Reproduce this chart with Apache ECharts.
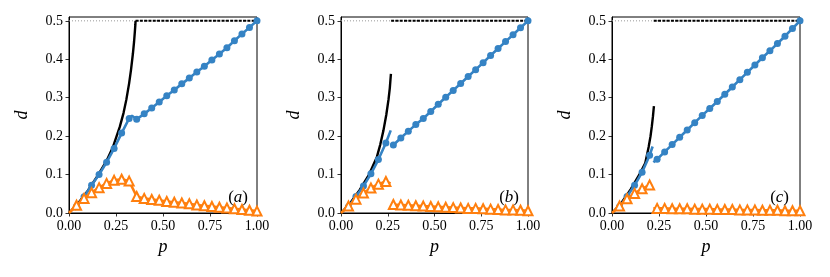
<!DOCTYPE html>
<html><head><meta charset="utf-8">
<script src="https://cdn.jsdelivr.net/npm/echarts@6/dist/echarts.min.js"></script>
<style>html,body{margin:0;padding:0;background:#fff}#c{width:830px;height:277px}</style>
</head><body><div id="c"></div>
<script>
// ---------- data ----------
const pTicks = [0, 0.25, 0.5, 0.75, 1];
const dTicks = [0, 0.1, 0.2, 0.3, 0.4, 0.5];
const panelLabels = ['a', 'b', 'c'];
const transitionP = [0.354, 0.268, 0.222];

const blackA = [[0,0],[0.05,0.026],[0.1,0.058],[0.15,0.095],[0.2,0.136],[0.234,0.172],[0.27,0.224],[0.29,0.26],[0.305,0.295],[0.32,0.338],[0.33,0.373],[0.34,0.415],[0.346,0.445],[0.35,0.47],[0.353,0.49],[0.354,0.5]];
const blackB = [[0,0],[0.05,0.026],[0.1,0.06],[0.15,0.1],[0.192,0.146],[0.21,0.178],[0.227,0.215],[0.242,0.255],[0.254,0.295],[0.261,0.325],[0.265,0.35],[0.267,0.362]];
const blackC = [[0,0],[0.05,0.026],[0.1,0.062],[0.15,0.104],[0.177,0.13],[0.195,0.172],[0.205,0.2],[0.212,0.226],[0.218,0.252],[0.221,0.268],[0.223,0.278]];

const blueA = [[[0.03,0.008],[0.04,0.017],[0.08,0.042],[0.12,0.072],[0.16,0.1],[0.2,0.132],[0.24,0.168],[0.28,0.208],[0.32,0.246],[0.335,0.253],[0.36,0.244],[0.4,0.258],[0.44,0.273],[0.48,0.289],[0.52,0.305],[0.56,0.32],[0.6,0.336],[0.64,0.351],[0.68,0.367],[0.72,0.382],[0.76,0.398],[0.8,0.414],[0.84,0.43],[0.88,0.448],[0.92,0.466],[0.96,0.483],[1,0.5]]];
const blueB = [
  [[0.03,0.008],[0.04,0.016],[0.08,0.043],[0.12,0.07],[0.16,0.102],[0.2,0.139],[0.24,0.182],[0.266,0.215]],
  [[0.28,0.177],[0.32,0.195],[0.36,0.213],[0.4,0.23],[0.44,0.246],[0.48,0.264],[0.52,0.283],[0.56,0.301],[0.6,0.319],[0.64,0.337],[0.68,0.355],[0.72,0.373],[0.76,0.391],[0.8,0.41],[0.84,0.428],[0.88,0.446],[0.92,0.464],[0.96,0.482],[1,0.5]]
];
const blueC = [
  [[0.03,0.008],[0.04,0.016],[0.08,0.043],[0.12,0.072],[0.16,0.106],[0.2,0.15],[0.216,0.173]],
  [[0.22,0.132],[0.24,0.14],[0.28,0.159],[0.32,0.178],[0.36,0.197],[0.4,0.216],[0.44,0.235],[0.48,0.254],[0.52,0.272],[0.56,0.29],[0.6,0.309],[0.64,0.328],[0.68,0.347],[0.72,0.366],[0.76,0.385],[0.8,0.404],[0.84,0.422],[0.88,0.441],[0.92,0.46],[0.96,0.48],[1,0.5]]
];

const orangeA = [[[0,0],[0.04,0.02],[0.08,0.038],[0.12,0.053],[0.16,0.066],[0.2,0.077],[0.24,0.085],[0.28,0.088],[0.32,0.083],[0.36,0.043],[0.4,0.038],[0.44,0.035],[0.48,0.033],[0.52,0.03],[0.56,0.028],[0.6,0.026],[0.64,0.024],[0.68,0.021],[0.72,0.019],[0.76,0.017],[0.8,0.015],[0.84,0.013],[0.88,0.011],[0.92,0.009],[0.96,0.007],[1,0.005]]];
const orangeB = [
  [[0,0],[0.04,0.018],[0.08,0.036],[0.12,0.052],[0.16,0.065],[0.2,0.075],[0.24,0.082],[0.265,0.077]],
  [[0.272,0.022],[0.28,0.022],[0.32,0.021],[0.36,0.02],[0.4,0.019],[0.44,0.018],[0.48,0.017],[0.52,0.016],[0.56,0.015],[0.6,0.014],[0.64,0.013],[0.68,0.012],[0.72,0.012],[0.76,0.011],[0.8,0.01],[0.84,0.009],[0.88,0.008],[0.92,0.008],[0.96,0.007],[1,0.006]]
];
const orangeC = [
  [[0,0],[0.04,0.018],[0.08,0.037],[0.12,0.051],[0.16,0.063],[0.2,0.073],[0.215,0.07]],
  [[0.22,0.012],[0.24,0.012],[0.28,0.012],[0.32,0.011],[0.36,0.011],[0.4,0.011],[0.44,0.01],[0.48,0.01],[0.52,0.01],[0.56,0.009],[0.6,0.009],[0.64,0.009],[0.68,0.008],[0.72,0.008],[0.76,0.008],[0.8,0.007],[0.84,0.007],[0.88,0.007],[0.92,0.006],[0.96,0.006],[1,0.006]]
];

const blacks = [blackA, blackB, blackC];
const blues = [blueA, blueB, blueC];
const oranges = [orangeA, orangeB, orangeC];

// ---------- layout / style ----------
const grids = [
  {left: 69, top: 17, width: 188, height: 196},
  {left: 341, top: 17, width: 187, height: 196},
  {left: 612, top: 17, width: 188, height: 196}
];
const labelRight = [577, 306, 36];
const FONT = '"Liberation Serif", "DejaVu Serif", serif';
const BLUE = '#3583c4';
const ORANGE = '#ff7f0e';
const onMarker = v => v[0] > 0 && Math.abs(v[0] / 0.04 - Math.round(v[0] / 0.04)) < 1e-6;

const xAxes = [], yAxes = [], series = [], titles = [];
for (let i = 0; i < 3; i++) {
  xAxes.push({
    gridIndex: i, type: 'value', min: 0, max: 1, interval: 0.25,
    name: 'p', nameLocation: 'middle', nameGap: 24,
    nameTextStyle: {fontFamily: FONT, fontStyle: 'italic', fontSize: 18, color: '#000'},
    axisLine: {show: true, lineStyle: {color: '#000', width: 1}},
    axisTick: {show: true, length: 3.5, lineStyle: {color: '#000', width: 0.8}},
    axisLabel: {fontFamily: FONT, fontSize: 14, color: '#000', margin: 6, formatter: v => v.toFixed(2)},
    splitLine: {show: false}
  });
  yAxes.push({
    gridIndex: i, type: 'value', min: 0, max: 0.51,
    name: 'd', nameLocation: 'middle', nameGap: 38,
    nameTextStyle: {fontFamily: FONT, fontStyle: 'italic', fontSize: 18, color: '#000'},
    axisLine: {show: true, lineStyle: {color: '#000', width: 1}},
    axisTick: {show: true, length: 3.5, lineStyle: {color: '#000', width: 0.8}, customValues: dTicks},
    axisLabel: {fontFamily: FONT, fontSize: 14, color: '#000', margin: 6, customValues: dTicks,
      formatter: v => (Math.abs(v * 10 - Math.round(v * 10)) < 1e-6 ? v.toFixed(1) : '')},
    splitLine: {show: false}
  });
  series.push({type: 'line', xAxisIndex: i, yAxisIndex: i, z: 1, symbol: 'none', silent: true,
    data: [[0, 0.5], [1, 0.5]], lineStyle: {color: '#999', width: 1, type: [1, 2]}});
  series.push({type: 'line', xAxisIndex: i, yAxisIndex: i, z: 2, symbol: 'none', silent: true,
    data: [[transitionP[i], 0.5], [1, 0.5]], lineStyle: {color: '#000', width: 2, type: [3, 1.3]}});
  series.push({type: 'line', xAxisIndex: i, yAxisIndex: i, z: 3, symbol: 'none', silent: true,
    data: blacks[i], lineStyle: {color: '#000', width: 2.4}});
  blues[i].forEach(seg => series.push({type: 'line', xAxisIndex: i, yAxisIndex: i, z: 4, silent: true,
    data: seg, symbol: v => (onMarker(v) ? 'circle' : 'none'), symbolSize: 7,
    lineStyle: {color: BLUE, width: 2.6}, itemStyle: {color: BLUE}}));
  oranges[i].forEach(seg => series.push({type: 'line', xAxisIndex: i, yAxisIndex: i, z: 5, silent: true,
    data: seg, symbol: v => (onMarker(v) ? 'triangle' : 'none'), symbolSize: [9, 9],
    lineStyle: {color: ORANGE, width: 2.6}, itemStyle: {color: '#fff', borderColor: ORANGE, borderWidth: 2}}));
  titles.push({
    text: '{n|(}{i|' + panelLabels[i] + '}{n|)}', right: labelRight[i], top: 184,
    textStyle: {fontWeight: 'normal', rich: {
      n: {fontFamily: FONT, fontSize: 17, fontWeight: 'normal', color: '#000'},
      i: {fontFamily: FONT, fontSize: 17, fontStyle: 'italic', fontWeight: 'normal', color: '#000'}
    }}
  });
}

const chart = echarts.init(document.getElementById('c'), null, {renderer: 'canvas'});
chart.setOption({
  animation: false,
  backgroundColor: '#fff',
  title: titles,
  grid: grids.map(g => Object.assign({show: true, borderColor: '#000', borderWidth: 1, backgroundColor: 'transparent', containLabel: false}, g)),
  xAxis: xAxes,
  yAxis: yAxes,
  series: series
});
</script></body></html>
